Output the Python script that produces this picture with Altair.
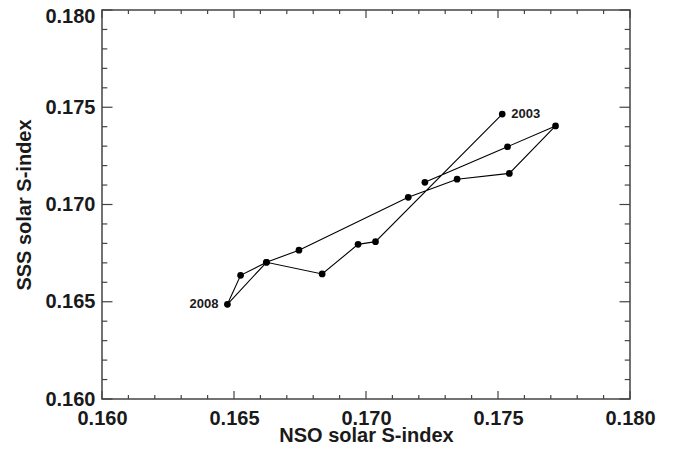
import altair as alt
import pandas as pd

# Data (path order as drawn)
nso = [0.17516, 0.17036, 0.16970, 0.16834, 0.16623, 0.16475, 0.16525, 0.16623,
       0.16746, 0.17160, 0.17345, 0.17543, 0.17718, 0.17536, 0.17223]
sss = [0.17465, 0.16809, 0.16795, 0.16643, 0.16703, 0.16487, 0.16636, 0.16703,
       0.16765, 0.17037, 0.17130, 0.17160, 0.17404, 0.17297, 0.17114]
seq = list(range(len(nso)))

label_years = ["2003", "2008"]
label_nso = [0.17516, 0.16475]
label_sss = [0.17465, 0.16487]

major_ticks = [0.160, 0.165, 0.170, 0.175, 0.180]
minor_ticks = [0.161, 0.162, 0.163, 0.164, 0.166, 0.167, 0.168, 0.169,
               0.171, 0.172, 0.173, 0.174, 0.176, 0.177, 0.178, 0.179]

W, H = 528, 389
FONT = "Liberation Sans"
TXT = "#1a1a1a"
FRAME = "#444444"

df = pd.DataFrame({"nso": nso, "sss": sss, "seq": seq})
lab_r = pd.DataFrame({"nso": label_nso[:1], "sss": label_sss[:1], "t": label_years[:1]})
lab_l = pd.DataFrame({"nso": label_nso[1:], "sss": label_sss[1:], "t": label_years[1:]})
maj = pd.DataFrame({"v": major_ticks})
mnr = pd.DataFrame({"v": minor_ticks})

xs = alt.Scale(domain=[0.160, 0.180], nice=False, zero=False)
ys = alt.Scale(domain=[0.160, 0.180], nice=False, zero=False)

common_axis = dict(
    values=major_ticks, format=".3f", ticks=False, tickSize=0, domain=False,
    grid=False, labelFont=FONT, labelFontSize=20, labelFontWeight="bold",
    labelColor=TXT, labelFlush=False, labelOverlap=False,
    titleFont=FONT, titleFontSize=20, titleFontWeight="bold", titleColor=TXT,
)

xaxis = alt.Axis(title="NSO solar S-index", labelPadding=9,
                 titleY=42, titleBaseline="alphabetic", **common_axis)
yaxis = alt.Axis(title="SSS solar S-index", labelPadding=7,
                 titleX=-72, titleBaseline="alphabetic",
                 labelOffset={"condition": {"test": "datum.value > 0.1799", "value": 6},
                              "value": 0},
                 **common_axis)

def X(f):
    return alt.X(f, scale=xs, axis=xaxis)

def Y(f):
    return alt.Y(f, scale=ys, axis=yaxis)

line = alt.Chart(df).mark_line(color="black", strokeWidth=1.1).encode(
    x=X("nso:Q"), y=Y("sss:Q"), order="seq:Q",
)
pts = alt.Chart(df).mark_circle(color="black", size=45, opacity=1).encode(
    x=X("nso:Q"), y=Y("sss:Q"),
)
txt_r = alt.Chart(lab_r).mark_text(
    align="left", baseline="middle", dx=9, font=FONT, fontSize=13,
    fontWeight="bold", color=TXT
).encode(x=X("nso:Q"), y=Y("sss:Q"), text="t:N")
txt_l = alt.Chart(lab_l).mark_text(
    align="right", baseline="middle", dx=-9, font=FONT, fontSize=13,
    fontWeight="bold", color=TXT
).encode(x=X("nso:Q"), y=Y("sss:Q"), text="t:N")

def xticks(data, length):
    bot = alt.Chart(data).mark_rule(color=FRAME, strokeWidth=1.2).encode(
        x=X("v:Q"), y=alt.value(H), y2=alt.value(H - length))
    top = alt.Chart(data).mark_rule(color=FRAME, strokeWidth=1.2).encode(
        x=X("v:Q"), y=alt.value(0), y2=alt.value(length))
    return [bot, top]

def yticks(data, length):
    left = alt.Chart(data).mark_rule(color=FRAME, strokeWidth=1.2).encode(
        y=Y("v:Q"), x=alt.value(0), x2=alt.value(length))
    right = alt.Chart(data).mark_rule(color=FRAME, strokeWidth=1.2).encode(
        y=Y("v:Q"), x=alt.value(W), x2=alt.value(W - length))
    return [left, right]

tick_layers = xticks(maj, 8) + xticks(mnr, 4) + yticks(maj, 10.5) + yticks(mnr, 5.3)

chart = alt.layer(line, pts, txt_r, txt_l, *tick_layers).properties(
    width=W, height=H,
    autosize=alt.AutoSizeParams(type="none"),
    padding={"left": 94, "top": 2, "right": 35, "bottom": 43},
    background="white",
).configure_view(stroke=FRAME, strokeWidth=1.5)

chart.save("out.html", embed_options={"renderer": "svg", "actions": False})
